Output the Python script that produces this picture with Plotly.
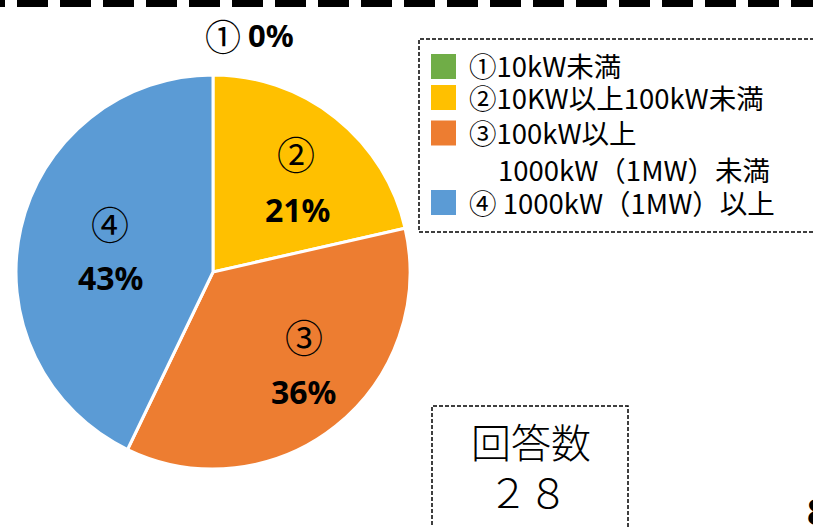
import plotly.graph_objects as go

# ---- data ----
categories = ["①", "②", "③", "④"]
legend_labels = ["①10kW未満", "②10KW以上100kW未満", "③100kW以上\n1000kW（1MW）未満", "④ 1000kW（1MW）以上"]
counts = [0, 6, 10, 12]
colors = ["#70AD47", "#FFC000", "#ED7D31", "#5B9BD5"]
respondents_title = "回答数"
respondents_value = "２８"
page_number = "8"

W, H = 813, 527


def px(x):
    return x / W


def py(y):
    return 1 - y / H


total = sum(counts)
pcts = [round(c / total * 100) for c in counts]

# pie geometry (pixels)
cx, cy, r = 213, 272, 197

fig = go.Figure()
fig.add_trace(go.Pie(
    labels=categories,
    values=counts,
    sort=False,
    direction="clockwise",
    rotation=0,
    marker=dict(colors=colors, line=dict(color="white", width=3)),
    textinfo="none",
    hoverinfo="skip",
    showlegend=False,
    domain=dict(x=[px(cx - r), px(cx + r)], y=[py(cy + r), py(cy - r)]),
))

JP = "Noto Sans CJK JP"
annotations = []
shapes = []

# slice labels: (circled number position, percent position)
label_pos = {
    1: ((296, 152), (297, 209)),
    2: ((304, 335), (303, 391)),
    3: ((110, 222), (110, 277)),
}
for i, ((nx, ny), (qx, qy)) in label_pos.items():
    annotations.append(dict(x=px(nx), y=py(ny), xref="paper", yref="paper", text=categories[i],
                            showarrow=False, font=dict(family=JP, size=38, color="black"),
                            xanchor="center", yanchor="middle"))
    annotations.append(dict(x=px(qx), y=py(qy), xref="paper", yref="paper", text=f"<b>{pcts[i]}%</b>",
                            showarrow=False, font=dict(family="Noto Sans", size=32, color="black"),
                            xanchor="center", yanchor="middle"))

# zero slice label at top
annotations.append(dict(x=px(223), y=py(35), xref="paper", yref="paper", text=categories[0],
                        showarrow=False, font=dict(family=JP, size=36, color="black"),
                        xanchor="center", yanchor="middle"))
annotations.append(dict(x=px(246), y=py(35), xref="paper", yref="paper", text=f"<b>{pcts[0]}%</b>",
                        showarrow=False, font=dict(family="Noto Sans", size=31, color="black"),
                        xanchor="left", yanchor="middle"))

# top dashed line
shapes.append(dict(type="line", xref="paper", yref="paper", x0=px(-26), x1=px(W + 20), y0=py(3.5), y1=py(3.5),
                   line=dict(color="black", width=7, dash="31px,12px")))

# legend box
shapes.append(dict(type="rect", xref="paper", yref="paper", x0=px(419), x1=px(W + 10), y0=py(232), y1=py(39),
                   line=dict(color="black", width=1.5, dash="4px,2px"), fillcolor="rgba(0,0,0,0)"))
row_y = [66.5, 97.5, 133, 202.5]
for i, lab in enumerate(legend_labels):
    y = row_y[i]
    shapes.append(dict(type="rect", xref="paper", yref="paper", x0=px(431), x1=px(456),
                       y0=py(y + 12.5), y1=py(y - 12.5), fillcolor=colors[i], line=dict(width=0)))
    parts = lab.split("\n")
    annotations.append(dict(x=px(467), y=py(y - 1), xref="paper", yref="paper", text=parts[0],
                            showarrow=False, font=dict(family=JP, size=27.5, color="black"),
                            xanchor="left", yanchor="middle"))
    if len(parts) > 1:
        annotations.append(dict(x=px(496), y=py(y + 36), xref="paper", yref="paper", text=parts[1],
                                showarrow=False, font=dict(family=JP, size=27.5, color="black"),
                                xanchor="left", yanchor="middle"))

# respondents box
shapes.append(dict(type="rect", xref="paper", yref="paper", x0=px(432), x1=px(628), y0=py(H + 20), y1=py(406),
                   line=dict(color="black", width=1.5, dash="4px,2px"), fillcolor="rgba(0,0,0,0)"))
annotations.append(dict(x=px(531), y=py(441), xref="paper", yref="paper", text=respondents_title,
                        showarrow=False, font=dict(family=JP, size=40, color="black", weight=300),
                        xanchor="center", yanchor="middle"))
annotations.append(dict(x=px(528), y=py(491), xref="paper", yref="paper", text=respondents_value,
                        showarrow=False, font=dict(family=JP, size=40, color="black", weight=300),
                        xanchor="center", yanchor="middle"))

# cut-off page number
annotations.append(dict(x=px(805), y=py(485), xref="paper", yref="paper", text=f"<b>{page_number}</b>",
                        showarrow=False, font=dict(family="Noto Sans", size=36, color="black"),
                        xanchor="left", yanchor="top"))

fig.update_layout(
    width=W, height=H,
    margin=dict(l=0, r=0, t=0, b=0, pad=0),
    paper_bgcolor="white", plot_bgcolor="white",
    annotations=annotations, shapes=shapes,
    showlegend=False,
)

fig.write_html("out.html", config={"displayModeBar": False},
               post_script="document.body.style.margin='0px';document.body.style.overflow='hidden';")
